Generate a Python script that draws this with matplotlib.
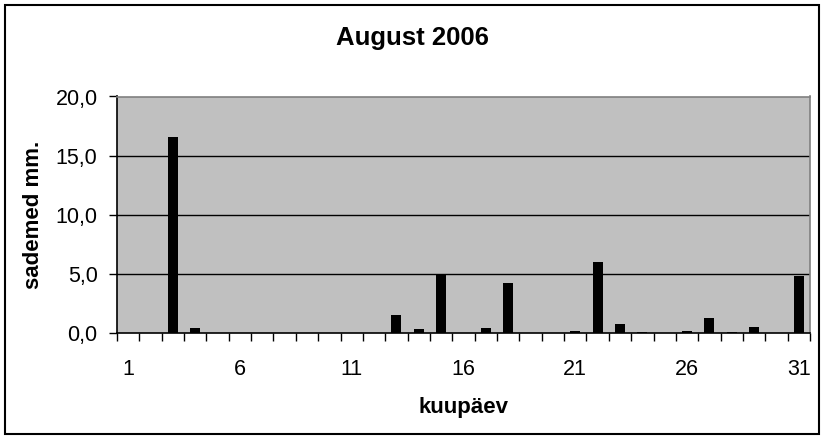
import matplotlib
matplotlib.use('Agg')
import matplotlib.pyplot as plt
from matplotlib.patches import Rectangle

plt.rcParams['font.family'] = ['Liberation Sans', 'DejaVu Sans']

# daily precipitation, August 2006
days = list(range(1, 32))
rain_mm = [0, 0, 16.6, 0.4, 0, 0, 0, 0, 0, 0,
           0, 0, 1.5, 0.3, 5.0, 0, 0.4, 4.2, 0, 0,
           0.2, 6.0, 0.8, 0.1, 0, 0.2, 1.3, 0.1, 0.5, 0,
           4.8]
y_ticks = [0, 5, 10, 15, 20]
x_labels = [1, 6, 11, 16, 21, 26, 31]

W, H = 826, 440
fig = plt.figure(figsize=(W / 100, H / 100), dpi=100)
fig.patch.set_facecolor('white')

# outer chart border
fig.patches.append(Rectangle((5 / W, 1 - 434 / H), 814 / W, 429 / H,
                             transform=fig.transFigure, fill=False,
                             edgecolor='black', linewidth=1.5))

left, right, top, bottom = 117, 810, 96.5, 333
ax = fig.add_axes([left / W, 1 - bottom / H, (right - left) / W, (bottom - top) / H])
ax.set_facecolor('#c0c0c0')

ax.bar(days, rain_mm, width=0.45, color='black', zorder=3)

ax.set_xlim(0.5, 31.5)
ax.set_ylim(0, 20)

# gridlines
for v in y_ticks[1:-1]:
    ax.axhline(v, color='black', linewidth=1, zorder=2)

ax.spines['top'].set_color('#808080')
ax.spines['right'].set_color('#808080')
ax.spines['left'].set_color('black')
ax.spines['bottom'].set_color('black')
for s in ax.spines.values():
    s.set_linewidth(1.2)

ax.set_yticks(y_ticks)
ax.set_yticklabels([f'{v:.1f}'.replace('.', ',') for v in y_ticks], fontsize=15.5)
ax.tick_params(axis='y', direction='out', length=6, width=1, pad=8)

# ticks between categories, labels under categories
ax.set_xticks([d + 0.5 for d in range(0, 32)])
ax.set_xticklabels([])
ax.tick_params(axis='x', which='major', direction='out', length=6, width=1)
ax.set_xticks(x_labels, minor=True)
ax.set_xticklabels([str(d) for d in x_labels], minor=True, fontsize=15.5)
ax.tick_params(axis='x', which='minor', length=0, pad=19)

ax.set_xlabel('kuupäev', fontsize=16, fontweight='bold')
ax.xaxis.set_label_coords(0.5, -0.27)
ax.set_ylabel('sademed mm.', fontsize=16, fontweight='bold')
ax.yaxis.set_label_coords(-0.106, 0.5)

fig.text(412 / W, 1 - 38 / H, 'August 2006', ha='center', va='center',
         fontsize=18.5, fontweight='bold')

fig.savefig('out.png', dpi=100, facecolor='white')
